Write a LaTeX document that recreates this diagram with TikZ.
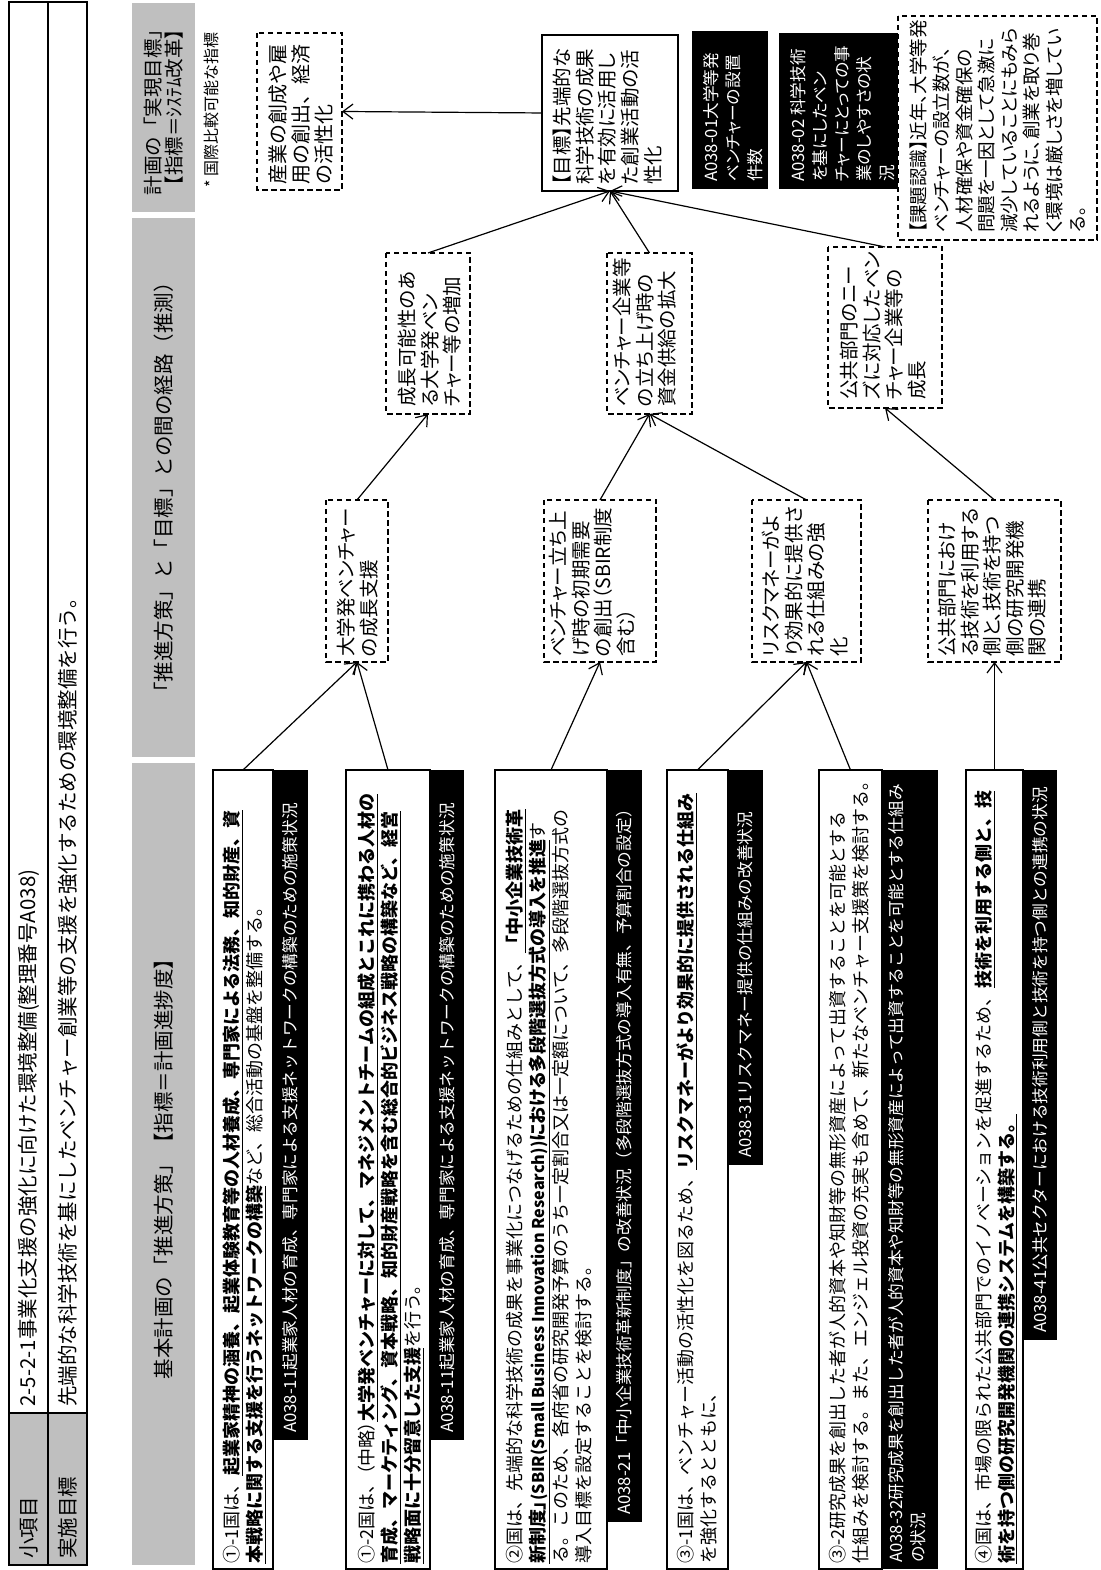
\documentclass[tikz,border=0pt]{standalone}
\usepackage{fontspec}
\setmainfont{Noto Sans CJK JP}
\newfontfamily\pfont{Noto Sans CJK JP}[RawFeature=+palt]
\usetikzlibrary{arrows.meta}
\definecolor{hg}{RGB}{191,191,191}
\newcommand\myfb{\fontsize{18}{22.8}\selectfont}
\newcommand\myfl{\fontsize{16.7}{22.5}\selectfont}
\newcommand\myfp{\pfont\fontsize{19.5}{22.6}\selectfont}
\newcommand\myfk{\pfont\fontsize{16.7}{22.2}\selectfont}
\newcommand\myfh{\fontsize{20.5}{24}\selectfont}
\newcommand\bu[1]{\textbf{\underline{#1}}}
\newcommand\rbox[7]{\node[#2, anchor=north west, minimum width={(#5)-(#3)}, minimum height={(#6)-(#4)}] (#1) at (#3,-#4) {#7};}
\tikzset{
  dbox/.style={draw, line width=1.3pt, dash pattern=on 5.5pt off 3.5pt, inner sep=0pt, outer sep=0pt},
  sbox/.style={draw, line width=1.3pt, inner sep=0pt, outer sep=0pt},
  blab/.style={fill=black, inner sep=0pt, outer sep=0pt},
  gcell/.style={draw, line width=2.4pt, fill=hg, inner sep=0pt, outer sep=0pt},
  wcell/.style={draw, line width=2.4pt, inner sep=0pt, outer sep=0pt},
  hdr/.style={fill=hg, inner sep=0pt, outer sep=0pt, font=\myfh, align=center},
  txt/.style={anchor=north west, inner sep=0pt, align=left},
  wtxt/.style={anchor=west, inner sep=0pt, align=left, text=white, font=\myfl},
  conn/.style={line width=1.2pt, -{Straight Barb[length=10pt,width=15pt,line width=1.2pt]}},
}
\begin{document}
\begin{tikzpicture}[x=1pt,y=1pt,rotate=90,transform shape]
\useasboundingbox (0,0) rectangle (1570,-1100);
% header table
\rbox{t1}{gcell}{5}{9}{157}{48}{}
\rbox{t2}{wcell}{157}{9}{1568}{48}{}
\rbox{t3}{gcell}{5}{48}{157}{87}{}
\rbox{t4}{wcell}{157}{48}{1568}{87}{}
\node[anchor=west, inner sep=0pt, font=\myfh] (t1x) at (11,-29) {小項目};
\node[anchor=west, inner sep=0pt, font=\myfh] (t3x) at (11,-68) {実施目標};
\node[anchor=west, inner sep=0pt, font=\myfh] (t2x) at (163,-29) {2-5-2-1事業化支援の強化に向けた環境整備(整理番号A038)};
\node[anchor=west, inner sep=0pt, font=\myfh] (t4x) at (163,-68) {先端的な科学技術を基にしたベンチャー創業等の支援を強化するための環境整備を行う。};
% column headers
\rbox{h1}{hdr}{5}{132}{807}{195}{基本計画の「推進方策」【指標＝計画進捗度】}
\rbox{h2}{hdr}{813}{132}{1352}{195}{「推進方策」と「目標」との間の経路（推測）}
\rbox{h3}{hdr, font=\fontsize{19.5}{21}\selectfont}{1358}{132}{1567}{195}{計画の「実現目標」\\【指標＝ｼｽﾃﾑ改革】}
\node[anchor=west, inner sep=0pt, font=\fontsize{16}{18}\selectfont] (note) at (1382,-211) {* 国際比較可能な指標};
% left boxes
\rbox{B11}{sbox}{1}{213}{800}{273}{}
\rbox{B12}{sbox}{1}{346}{800}{430}{}
\rbox{B2}{sbox}{1}{495}{800}{607}{}
\rbox{B31}{sbox}{1}{667}{800}{728}{}
\rbox{B32}{sbox}{1}{819}{800}{882}{}
\rbox{B4}{sbox}{1}{966}{800}{1023}{}
\node[txt, font=\myfb] (B11t) at (6,-223) {①-1国は、\bu{起業家精神の涵養、起業体験教育等の人材養成、専門家による法務、知的財産、資}\\\bu{本戦略に関する支援を行うネットワークの構築}など、総合活動の基盤を整備する。};
\node[txt, font=\myfb] (B12t) at (6,-358) {①-2国は、{\pfont （中略）}\bu{大学発ベンチャーに対して、マネジメントチームの組成とこれに携わる人材の}\\\bu{育成、マーケティング、資本戦略、知的財産戦略を含む総合的ビジネス戦略の構築など、経営}\\\bu{戦略面に十分留意した支援}を行う。};
\node[txt, font=\myfb] (B2t) at (6,-506) {②国は、先端的な科学技術の成果を事業化につなげるための仕組みとして、\bu{「中小企業技術革}\\{\pfont\bu{新制度」{\fontsize{16.2}{22.8}\selectfont (SBIR(Small Business Innovation Research))}における多段階選抜方式の導入を推進}す}\\る。このため、各府省の研究開発予算のうち一定割合又は一定額について、多段階選抜方式の\\導入目標を設定することを検討する。};
\node[txt, font=\myfb] (B31t) at (6,-677) {③-1国は、ベンチャー活動の活性化を図るため、\bu{リスクマネーがより効果的に提供される仕組み}\\を強化するとともに、};
\node[txt, font=\myfb] (B32t) at (6,-829) {③-2研究成果を創出した者が人的資本や知財等の無形資産によって出資することを可能とする\\仕組みを検討する。また、エンジェル投資の充実も含めて、新たなベンチャー支援策を検討する。};
\node[txt, font=\myfb] (B4t) at (6,-975) {④国は、市場の限られた公共部門でのイノベーションを促進するため、\bu{技術を利用する側と、技}\\\bu{術を持つ側の研究開発機関の連携システムを構築する。}};
% black labels
\rbox{L11}{blab}{130}{273}{800}{308}{}
\rbox{L12}{blab}{130}{430}{800}{464}{}
\rbox{L2}{blab}{48}{607}{800}{642}{}
\rbox{L31}{blab}{405}{728}{800}{763}{}
\rbox{L32}{blab}{1}{882}{800}{938}{}
\rbox{L4}{blab}{230}{1023}{800}{1057}{}
\node[wtxt] (L11t) at (137,-290.5) {A038-11起業家人材の育成、専門家による支援ネットワークの構築のための施策状況};
\node[wtxt] (L12t) at (137,-447) {A038-11起業家人材の育成、専門家による支援ネットワークの構築のための施策状況};
\node[wtxt] (L2t) at (55,-624.5) {A038-21「中小企業技術革新制度」の改善状況（多段階選抜方式の導入有無、予算割合の設定）};
\node[wtxt] (L31t) at (412,-745.5) {A038-31リスクマネー提供の仕組みの改善状況};
\node[txt, text=white, font=\myfl] (L32t) at (7,-888) {A038-32研究成果を創出した者が人的資本や知財等の無形資産によって出資することを可能とする仕組み\\の状況};
\node[wtxt] (L4t) at (237,-1040) {A038-41公共セクターにおける技術利用側と技術を持つ側との連携の状況};
% middle boxes
\rbox{P1}{dbox}{908}{326}{1070}{388}{}
\rbox{P2}{dbox}{908}{544}{1070}{656}{}
\rbox{P3}{dbox}{908}{752}{1070}{861}{}
\rbox{P4}{dbox}{908}{928}{1070}{1061}{}
\node[txt, font=\myfp] (P1t) at (913,-337) {大学発ベンチャー\\の成長支援};
\node[txt, font=\myfp] (P2t) at (913,-549) {ベンチャー立ち上\\げ時の初期需要\\の創出（SBIR制度\\含む）};
\node[txt, font=\myfp] (P3t) at (913,-762) {リスクマネーがよ\\り効果的に提供さ\\れる仕組みの強\\化};
\node[txt, font=\myfp] (P4t) at (913,-938) {公共部門におけ\\る技術を利用する\\側と、技術を持つ\\側の研究開発機\\関の連携};
\rbox{Q1}{dbox}{1156}{386}{1317}{470}{}
\rbox{Q2}{dbox}{1156}{607}{1317}{692}{}
\rbox{Q3}{dbox}{1162}{828}{1323}{942}{}
\node[txt, font=\myfp] (Q1t) at (1163,-398) {成長可能性のあ\\る大学発ベン\\チャー等の増加};
\node[txt, font=\myfp] (Q2t) at (1163,-613) {ベンチャー企業等\\の立ち上げ時の\\資金供給の拡大};
\node[txt, font=\myfp] (Q3t) at (1170,-840) {公共部門のニー\\ズに対応したベン\\チャー企業等の\\成長};
% right column
\rbox{G}{sbox}{1379}{542}{1535}{678}{}
\node[txt, font=\myfp] (Gt) at (1385,-553) {【目標】先端的な\\科学技術の成果\\を有効に活用し\\た創業活動の活\\性化};
\rbox{E}{dbox}{1380}{257}{1537}{342}{}
\node[txt, font=\fontsize{20}{23}\selectfont] (Et) at (1385,-268) {産業の創成や雇\\用の創出、経済\\の活性化};
\rbox{K1}{blab}{1381}{692}{1539}{768}{}
\node[txt, text=white, font=\myfk] (K1t) at (1388,-703) {A038-01大学等発\\ベンチャーの設置\\件数};
\rbox{K2}{blab}{1381}{779}{1537}{898}{}
\node[txt, text=white, font=\myfk] (K2t) at (1388,-790) {A038-02 科学技術\\を基にしたベン\\チャーにとっての事\\業のしやすさの状\\況};
\rbox{C}{dbox}{1330}{898}{1554}{1097}{}
\node[txt, font=\pfont\fontsize{18.5}{22.6}\selectfont] (Ct) at (1337,-910) {【課題認識】近年、大学等発\\ベンチャーの設立数が、\\人材確保や資金確保の\\問題を一因として急激に\\減少していることにもみら\\れるように、創業を取り巻\\く環境は厳しさを増してい\\る。};
% connectors
\draw[conn] (B11.east) -- (P1.west);
\draw[conn] (B12.east) -- (P1.west);
\draw[conn] (B2.east) -- (P2.west);
\draw[conn] (B31.east) -- (P3.west);
\draw[conn] (B32.east) -- (P3.west);
\draw[conn] (B4.east) -- (P4.west);
\draw[conn] (P1.east) -- (Q1.west);
\draw[conn] (P2.east) -- (Q2.west);
\draw[conn] (P3.east) -- (Q2.west);
\draw[conn] (P4.east) -- (Q3.west);
\draw[conn] (Q1.east) -- (G.west);
\draw[conn] (Q2.east) -- (G.west);
\draw[conn] (Q3.east) -- (G.west);
\draw[conn] (G.north) -- (E.south);
\end{tikzpicture}
\end{document}
